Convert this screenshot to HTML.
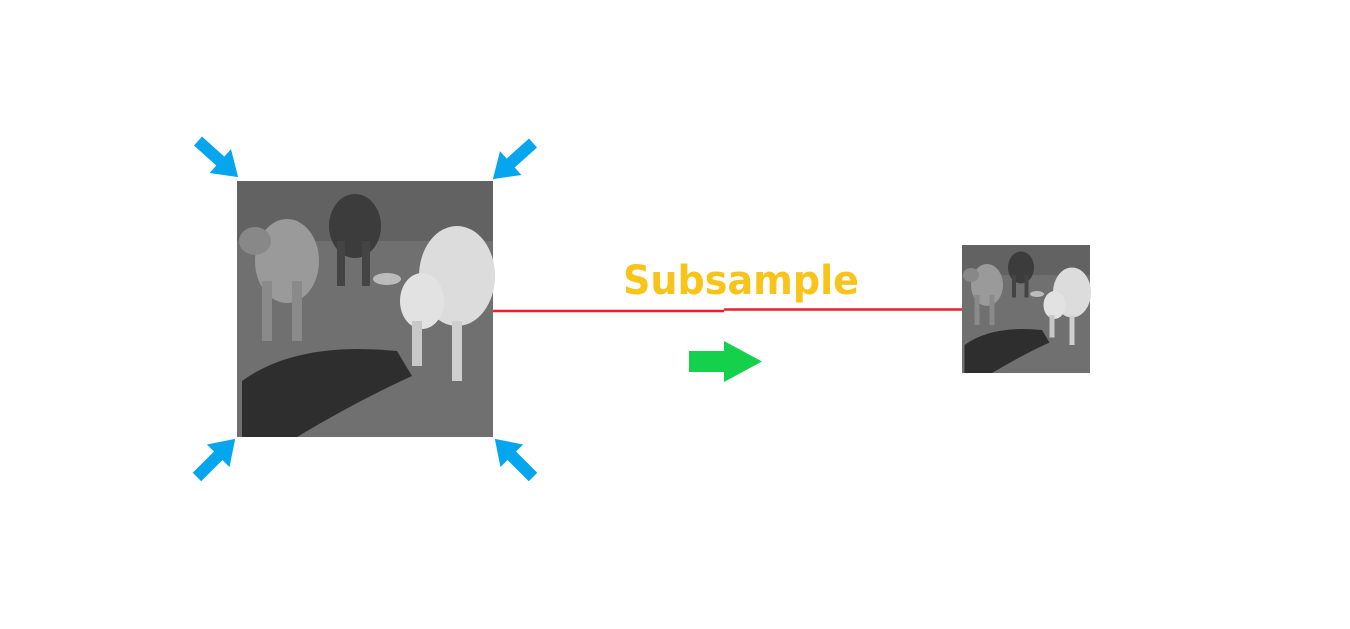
<!DOCTYPE html>
<html><head><style>
html,body{margin:0;padding:0;background:#fff;width:1350px;height:629px;overflow:hidden}
</style></head><body>
<svg width="1350" height="629" viewBox="0 0 1350 629" xmlns="http://www.w3.org/2000/svg">
<defs>
<g id="photo">
<rect x="0" y="0" width="256" height="256" fill="#707070"/>
<rect x="0" y="0" width="256" height="60" fill="#626262"/>
<path d="M5 200 Q60 160 160 170 L175 195 Q120 220 60 256 L5 256 Z" fill="#2e2e2e"/>
<ellipse cx="50" cy="80" rx="32" ry="42" fill="#9a9a9a"/>
<rect x="25" y="100" width="10" height="60" fill="#8a8a8a"/>
<rect x="55" y="100" width="10" height="60" fill="#8a8a8a"/>
<ellipse cx="18" cy="60" rx="16" ry="14" fill="#888"/>
<ellipse cx="118" cy="45" rx="26" ry="32" fill="#3c3c3c"/>
<rect x="100" y="60" width="8" height="45" fill="#444"/>
<rect x="125" y="60" width="8" height="45" fill="#444"/>
<ellipse cx="220" cy="95" rx="38" ry="50" fill="#dcdcdc"/>
<ellipse cx="185" cy="120" rx="22" ry="28" fill="#e2e2e2"/>
<rect x="175" y="140" width="10" height="45" fill="#c8c8c8"/>
<rect x="215" y="140" width="10" height="60" fill="#cfcfcf"/>
<ellipse cx="150" cy="98" rx="14" ry="6" fill="#bbb"/>
</g>
<polygon id="arr" points="0,-6 30,-6 30,-16 54,0 30,16 30,6 0,6" fill="#06a6ee"/>
</defs>
<use href="#photo" transform="translate(237,181)"/>
<use href="#photo" transform="translate(962,245) scale(0.5)"/>
<use href="#arr" transform="translate(198,141) rotate(42)"/>
<use href="#arr" transform="translate(533,143) rotate(138)"/>
<use href="#arr" transform="translate(197,477) rotate(-45)"/>
<use href="#arr" transform="translate(533,477) rotate(-135)"/>
<line x1="493" y1="311" x2="724" y2="311" stroke="#e8202a" stroke-width="2.5"/>
<line x1="724" y1="309.5" x2="962" y2="309.5" stroke="#e8202a" stroke-width="2.5"/>
<text x="741" y="294" text-anchor="middle" font-family="'DejaVu Sans','Liberation Sans',sans-serif" font-weight="bold" font-size="40" fill="#f8c41a" textLength="236" lengthAdjust="spacingAndGlyphs">Subsample</text>
<polygon points="689,351 724,351 724,341 762,361.5 724,382 724,372 689,372" fill="#14d04a"/>
</svg>
</body></html>
